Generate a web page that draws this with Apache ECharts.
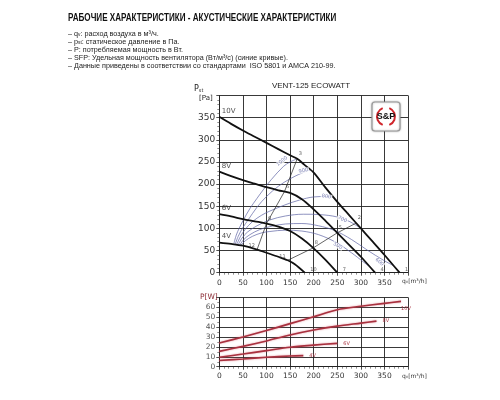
<!DOCTYPE html>
<html>
<head>
<meta charset="utf-8">
<script src="https://cdn.jsdelivr.net/npm/echarts@6/dist/echarts.min.js"></script>
<style>html,body{margin:0;padding:0;background:#fff}#chart{width:500px;height:400px}</style>
</head>
<body>
<div id="chart"></div>
<script>
// кривые давления, q [м3/ч] -> Pst [Па]
var q10 = [0, 25, 50, 75, 100, 125, 150, 165, 180, 200, 225, 250, 275, 300, 325, 350, 382];
var p10 = [352, 336, 321, 307, 293, 279, 265, 257, 244, 226, 192, 160, 130, 100, 70, 40, 0];
var q8 = [0, 25, 50, 75, 100, 125, 150, 175, 200, 225, 250, 275, 300, 330];
var p8 = [228, 218, 209, 201, 193, 186, 180, 166, 143, 117, 90, 63, 36, 0];
var q6 = [0, 25, 50, 75, 100, 125, 150, 175, 200, 225, 250];
var p6 = [132, 127, 121, 116, 111, 104, 94, 77, 55, 29, 0];
var q4 = [0, 25, 50, 75, 100, 125, 145, 160, 181];
var p4 = [68, 65, 61, 54, 45, 36, 28, 19, 0];
var voltNames = ['10V', '8V', '6V', '4V'];

// SFP (синие кривые)
var sfpNames = ['1000', '900', '800', '700', '600', '500'];
var sfpQ = [
  [31, 36, 42, 51, 65, 80, 93, 110, 136, 150, 165],
  [34, 40, 50, 61, 80, 100, 125, 150, 175, 192],
  [37, 45, 55, 70, 90, 107, 139, 170, 200, 227, 243],
  [40, 48, 60, 80, 107, 140, 178, 215, 249, 275, 300],
  [43, 52, 65, 85, 107, 140, 175, 210, 245, 280, 315, 348, 369],
  [46, 55, 70, 90, 107, 140, 175, 210, 248, 280, 320]
];
var sfpP = [
  [66, 85, 100, 119, 145, 168, 187, 210, 240, 250, 257],
  [65, 82, 102, 119, 148, 172, 195, 212, 225, 232],
  [64, 82, 98, 115, 130, 139, 153, 164, 171, 172, 170],
  [63, 78, 92, 106, 119, 128, 132, 131, 126, 116, 100],
  [62, 75, 86, 97, 104, 110, 111, 106, 95, 75, 50, 28, 16],
  [62, 72, 82, 90, 93, 96, 94, 86, 68, 45, 12]
];

// рабочие точки 1..12
var opNames = ['1', '2', '3', '4', '5', '6', '7', '8', '9', '10', '11', '12'];
var opQ = [382, 290, 165, 330, 250, 138, 250, 199, 100, 181, 145, 80];
var opP = [0, 112, 257, 0, 90, 183, 0, 56, 111, 0, 28, 52];
var sysA = [11, 8, 5, 2];
var sysB = [10, 7, 4, 1];

// потребляемая мощность, q [м3/ч] -> P [Вт]
var wq10 = [0, 50, 100, 150, 200, 250, 300, 350, 385];
var w10 = [24, 30, 36.5, 43.5, 50.5, 57.5, 61, 64, 66];
var wq8 = [0, 50, 100, 150, 200, 250, 300, 333];
var w8 = [15.5, 20.5, 26, 32, 37, 41, 44, 46];
var wq6 = [0, 50, 100, 150, 200, 250];
var w6 = [9.5, 12.8, 16.2, 19.6, 21.8, 23.6];
var wq4 = [0, 50, 100, 150, 178];
var w4 = [6.3, 7.8, 9.5, 10.8, 11.2];

function zip(a, b) {
  return a.map(function (v, i) { return [v, b[i]]; });
}

var FONT = 'DejaVu Sans';
var BLUE = '#5d63a3';
var RED = '#a8313f';

function xAx(i, margin) {
  return {
    type: 'value', gridIndex: i, min: 0, max: 400, interval: 50,
    axisLine: { show: true, lineStyle: { color: '#222', width: 1 } },
    axisTick: { show: true, length: 3, lineStyle: { color: '#222', width: 0.8 } },
    minorTick: { show: true, splitNumber: 5, length: 2, lineStyle: { color: '#444', width: 0.6 } },
    splitLine: { show: true, lineStyle: { color: '#222', width: 0.9 } },
    axisLabel: {
      margin: margin, fontSize: 7.5, fontFamily: FONT, color: '#333',
      formatter: function (v) { return v === 400 ? '' : v; }
    }
  };
}

function yAx(i, max, step, minor, size, color) {
  return {
    type: 'value', gridIndex: i, min: 0, max: max, interval: step,
    axisLine: { show: true, lineStyle: { color: '#222', width: 1 } },
    axisTick: { show: true, length: 3, lineStyle: { color: '#222', width: 0.8 } },
    minorTick: { show: true, splitNumber: minor, length: 2, lineStyle: { color: '#444', width: 0.6 } },
    splitLine: { show: true, lineStyle: { color: '#222', width: 0.9 } },
    axisLabel: {
      margin: 4, fontSize: size, fontFamily: FONT, color: color,
      formatter: function (v) { return v === max ? '' : v; }
    }
  };
}

var series = [];

// синие кривые SFP
var sfpLab = [
  { i: 8, rot: 38, off: [2, -5] },
  { i: 8, rot: 12, off: [2, -2] },
  { i: 9, rot: -10, off: [0, 0] },
  { i: 8, rot: -25, off: [6, 0] },
  { i: 11, rot: -40, off: [-2, 4] },
  { i: 8, rot: -32, off: [3, 2] }
];
sfpNames.forEach(function (name, k) {
  series.push({
    type: 'line', xAxisIndex: 0, yAxisIndex: 0, data: zip(sfpQ[k], sfpP[k]),
    smooth: 0.35, symbol: 'none', z: 2,
    lineStyle: { color: BLUE, width: 0.7 }
  });
  var s = sfpLab[k];
  series.push({
    type: 'scatter', xAxisIndex: 0, yAxisIndex: 0, z: 7,
    symbolSize: 1, itemStyle: { color: 'rgba(0,0,0,0)' },
    data: [[sfpQ[k][s.i], sfpP[k][s.i]]],
    label: {
      show: true, formatter: name, position: 'inside', rotate: s.rot, offset: s.off,
      fontSize: 5, fontFamily: FONT, color: BLUE, backgroundColor: '#fff', padding: [0, 1]
    }
  });
});

// кривые системы через рабочие точки
[sysA, sysB].forEach(function (idx) {
  series.push({
    type: 'line', xAxisIndex: 0, yAxisIndex: 0, symbol: 'none', z: 3,
    data: idx.map(function (j) { return [opQ[j], opP[j]]; }),
    lineStyle: { color: '#222', width: 0.7 }
  });
});

// характеристики вентилятора
var pq = [q10, q8, q6, q4];
var pp = [p10, p8, p6, p4];
pq.forEach(function (q, k) {
  series.push({
    type: 'line', xAxisIndex: 0, yAxisIndex: 0, data: zip(q, pp[k]),
    smooth: 0.3, symbol: 'none', z: 4,
    lineStyle: { color: '#111', width: 1.8 }
  });
});
series.push({
  type: 'scatter', xAxisIndex: 0, yAxisIndex: 0, z: 7,
  symbolSize: 1, itemStyle: { color: 'rgba(0,0,0,0)' },
  data: pq.map(function (q, k) { return [q[0], pp[k][0]]; }),
  label: {
    show: true, position: 'right', distance: 2, offset: [0, -6],
    fontSize: 7, fontFamily: FONT, color: '#222',
    formatter: function (p) { return voltNames[p.dataIndex]; }
  }
});

// номера точек
series.push({
  type: 'scatter', xAxisIndex: 0, yAxisIndex: 0, z: 8,
  symbolSize: 1, itemStyle: { color: 'rgba(0,0,0,0)' },
  data: opQ.map(function (q, j) { return [q, opP[j]]; }),
  label: {
    show: true, fontSize: 5, fontFamily: FONT, color: '#333', position: 'top',
    formatter: function (p) { return opNames[p.dataIndex]; }
  },
  labelLayout: function (p) {
    var n = opNames[p.dataIndex];
    if (n === '1' || n === '4' || n === '7' || n === '10') {
      return { x: p.rect.x + 6, y: p.rect.y - 5 };
    }
    if (n === '12' || n === '11') {
      return { x: p.rect.x - 8, y: p.rect.y - 6 };
    }
    return { x: p.rect.x + 2, y: p.rect.y - 7 };
  }
});

// мощность
var wq = [wq10, wq8, wq6, wq4];
var ww = [w10, w8, w6, w4];
var endOff = [[-8, 7], [-2, 0], [-2, 0], [-2, 0]];
wq.forEach(function (q, k) {
  series.push({
    type: 'line', xAxisIndex: 1, yAxisIndex: 1, data: zip(q, ww[k]),
    smooth: 0.3, symbol: 'none', z: 4,
    lineStyle: { color: RED, width: 1.6, shadowBlur: 2, shadowColor: 'rgba(210,80,95,0.6)' },
    endLabel: {
      show: true, formatter: voltNames[k], fontSize: 5, fontFamily: FONT,
      color: RED, offset: endOff[k]
    }
  });
});

var sub = { fontSize: 5, fontFamily: 'Liberation Sans', fill: '#222', verticalAlign: 'bottom', padding: [3, 0, 0, 0] };
var txt = { fontSize: 7.5, fontFamily: 'Liberation Sans', fill: '#222' };
function line(y, text) {
  return {
    type: 'text', x: 68, y: y, scaleX: 0.96,
    style: { text: text, font: '7.5px "Liberation Sans"', fill: '#222', verticalAlign: 'middle', rich: { t: txt, s: sub } }
  };
}

var option = {
  animation: false,
  backgroundColor: '#fff',
  grid: [
    { left: 219.3, top: 95.5, width: 188.8, height: 177.2 },
    { left: 219.3, top: 297.4, width: 188.8, height: 69.3 }
  ],
  xAxis: [xAx(0, 6), xAx(1, 5)],
  yAxis: [yAx(0, 400, 50, 5, 9, '#333'), yAx(1, 70, 10, 2, 7.5, '#555')],
  series: series,
  graphic: [
    {
      type: 'text', x: 68, y: 18, scaleX: 0.81,
      style: { text: 'РАБОЧИЕ ХАРАКТЕРИСТИКИ - АКУСТИЧЕСКИЕ ХАРАКТЕРИСТИКИ', font: 'bold 10px "Liberation Sans"', fill: '#111', verticalAlign: 'middle' }
    },
    line(33.5, '{t|– q}{s|v}{t|: расход воздуха в м³/ч.}'),
    line(41.5, '{t|– p}{s|st}{t|: статическое давление в Па.}'),
    line(49.5, '{t|– P: потребляемая мощность в Вт.}'),
    line(57.5, '{t|– SFP: Удельная мощность вентилятора (Вт/м³/с) (синие кривые).}'),
    line(65.5, '{t|– Данные приведены в соответствии со стандартами  ISO 5801 и AMCA 210-99.}'),
    {
      type: 'text', x: 311, y: 86,
      style: { text: 'VENT-125 ECOWATT', font: '8px "Liberation Sans"', fill: '#222', align: 'center', verticalAlign: 'middle' }
    },
    {
      type: 'text', x: 194, y: 89,
      style: { text: '{a|P}{b|st}', verticalAlign: 'middle', rich: { a: { fontSize: 8, fontFamily: FONT, fill: '#222' }, b: { fontSize: 5, fontFamily: FONT, fill: '#222', verticalAlign: 'bottom' } } }
    },
    {
      type: 'text', x: 199, y: 98.5,
      style: { text: '[Pa]', font: '7px ' + FONT, fill: '#222', verticalAlign: 'middle' }
    },
    {
      type: 'text', x: 402, y: 281,
      style: { text: '{a|q}{b|v}{a|[m³/h]}', verticalAlign: 'middle', rich: { a: { fontSize: 6, fontFamily: FONT, fill: '#333' }, b: { fontSize: 4, fontFamily: FONT, fill: '#333', verticalAlign: 'bottom' } } }
    },
    {
      type: 'text', x: 402, y: 376,
      style: { text: '{a|q}{b|v}{a|[m³/h]}', verticalAlign: 'middle', rich: { a: { fontSize: 6, fontFamily: FONT, fill: '#333' }, b: { fontSize: 4, fontFamily: FONT, fill: '#333', verticalAlign: 'bottom' } } }
    },
    {
      type: 'text', x: 200, y: 297,
      style: { text: 'P[W]', font: '7.5px ' + FONT, fill: '#8b2a33', verticalAlign: 'middle' }
    },
    {
      type: 'rect', z: 100, shape: { x: 372, y: 102, width: 28, height: 29, r: 3 },
      style: { fill: '#fff', stroke: '#9a9a9a', lineWidth: 1.2, shadowBlur: 2, shadowColor: 'rgba(0,0,0,0.3)' }
    },
    {
      type: 'arc', z: 101, shape: { cx: 386, cy: 116.5, r: 9, startAngle: Math.PI * 0.62, endAngle: Math.PI * 1.38 },
      style: { stroke: '#d0262c', lineWidth: 2, fill: null }
    },
    {
      type: 'arc', z: 101, shape: { cx: 386, cy: 116.5, r: 9, startAngle: -Math.PI * 0.38, endAngle: Math.PI * 0.38 },
      style: { stroke: '#d0262c', lineWidth: 2, fill: null }
    },
    {
      type: 'text', z: 102, x: 386, y: 117,
      style: { text: 'S&P', font: 'bold 9px "Liberation Sans"', fill: '#111', align: 'center', verticalAlign: 'middle' }
    }
  ]
};

var myChart = echarts.init(document.getElementById('chart'));
myChart.setOption(option);
</script>
</body>
</html>
